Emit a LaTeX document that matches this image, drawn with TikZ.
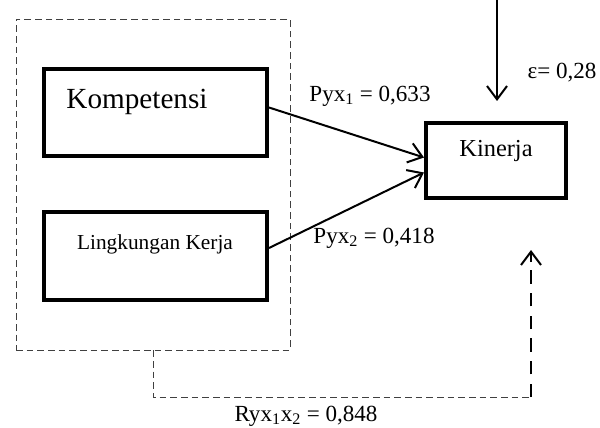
\documentclass[tikz,border=0pt]{standalone}
\usepackage{fontspec}
\setmainfont{Liberation Serif}
\usetikzlibrary{arrows.meta}
\begin{document}
\begin{tikzpicture}[x=0.75pt,y=-0.75pt,
  box/.style={draw,line width=3pt,inner sep=0pt},
  grpbox/.style={draw=black!75,dashed,dash pattern=on 5pt off 3pt,line width=0.6pt,inner sep=0pt,minimum width=205.5pt,minimum height=248.25pt},
  lab/.style={font=\fontsize{17.3}{19}\selectfont,inner sep=0pt},
  arr/.style={line width=1.5pt,-{Straight Barb[length=10pt,width=15pt,line width=1.5pt]}},
]
\useasboundingbox (0,0) rectangle (600,428);
\node[grpbox] (grp) at (153,184.5) {};
\node[box,minimum width=167.25pt,minimum height=65.25pt] (k) at (155.5,112.5) {};
\node[font=\fontsize{21.9}{24}\selectfont,inner sep=0pt] (kt) at (137,102) {Kompetensi};
\node[box,minimum width=167.25pt,minimum height=66pt] (l) at (155.5,256) {};
\node[font=\fontsize{16}{18}\selectfont,inner sep=0pt] (lt) at (155,244) {Lingkungan Kerja};
\node[box,minimum width=105pt,minimum height=56.25pt] (kin) at (496,160.5) {};
\node[font=\fontsize{18.3}{20}\selectfont,inner sep=0pt] (kint) at (496,151) {Kinerja};
\draw[arr] ([yshift=3.75pt]k.east) -- ([yshift=2.25pt]kin.west);
\draw[arr] ([yshift=6pt]l.east) -- ([yshift=-9pt]kin.west);
\coordinate (etop) at (497,0);
\coordinate (eend) at (497,101);
\draw[arr] (etop) -- (eend);
\node[lab] (p1) at (370,96) {Pyx\textsubscript{1} = 0,633};
\node[lab] (p2) at (374,238) {Pyx\textsubscript{2} = 0,418};
\node[lab] (eps) at (562,73) {ε= 0,28};
\coordinate (cor) at (531,397);
\coordinate (rtip) at (531,250);
\draw[black!75,line width=0.6pt,dash pattern=on 5pt off 3pt] (grp.south) |- (cor);
\draw[line width=1.5pt,dash pattern=on 10pt off 7pt] (cor) -- ([yshift=-8pt]rtip);
\draw[line width=1.5pt,-{Straight Barb[length=10pt,width=15pt,line width=1.5pt]}] ([yshift=-9pt]rtip) -- (rtip);
\node[lab] (r) at (306,416) {Ryx\textsubscript{1}x\textsubscript{2} = 0,848};
\end{tikzpicture}
\end{document}
